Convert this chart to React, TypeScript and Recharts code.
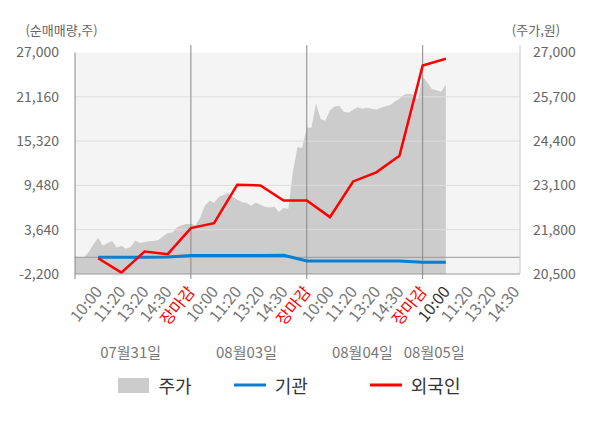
import React from "react";
import {
  ComposedChart,
  Area,
  Line,
  XAxis,
  YAxis,
  ReferenceLine,
  ReferenceArea,
  Legend,
} from "recharts";

// 일자 / 시간 라벨
const dayLabels = ["07월31일", "08월03일", "08월04일", "08월05일"];
const timeLabels = [
  "", "10:00", "11:20", "13:20", "14:30", "장마감",
  "10:00", "11:20", "13:20", "14:30", "장마감",
  "10:00", "11:20", "13:20", "14:30", "장마감",
  "10:00", "11:20", "13:20", "14:30",
];

// 주가 (원) - 일자별 장중 샘플
const priceDay1 = [
  21029, 20971, 21000, 21150, 21380, 21560, 21330, 21410, 21470, 21280, 21330, 21240, 21290,
  21480, 21410, 21440, 21460, 21470, 21500, 21610, 21700, 21720, 21870, 21930, 21970,
];
const priceDay2 = [
  21970, 21940, 22150, 22500, 22650, 22590, 22760, 22820, 22880, 22770, 22680, 22610, 22580,
  22500, 22600, 22530, 22470, 22450, 22470, 22330, 22440, 22410, 23500, 24230, 24200,
];
const priceDay3 = [
  24800, 24790, 25500, 25050, 25000, 25300, 25420, 25440, 25260, 25230, 25320, 25390, 25350,
  25380, 25350, 25330, 25380, 25420, 25460, 25560, 25640, 25760, 25790, 25760, 25620,
];
const priceDay4 = [26290, 26120, 25930, 25890, 25850, 26050];
const priceDays = [priceDay1, priceDay2, priceDay3, priceDay4];

// 순매매량 (주)
const flowSlots = [1, 2, 3, 4, 5, 6, 7, 8, 9, 10, 11, 12, 13, 14, 15, 16];
const foreignNet = [
  -120, -2020, 750, 410, 3850, 4500, 9570, 9480, 7490, 7490, 5300, 10000, 11200, 13400, 25290, 26180,
];
const institutionNet = [0, 0, 0, 50, 230, 230, 230, 230, 280, -480, -480, -480, -480, -480, -650, -650];

const leftTicks = [-2200, 3640, 9480, 15320, 21160, 27000];
const rightTicks = [20500, 21800, 23100, 24400, 25700, 27000];
const dayCloses = [5, 10, 15];

const SLOTS_PER_DAY = 5;
const SAMPLE_STEP = 0.2;

const priceData = priceDays.flatMap((vals, d) =>
  vals.map((p, k) => ({ t: d * SLOTS_PER_DAY + k * SAMPLE_STEP, price: p }))
);
const flowData = flowSlots.map((t, i) => ({
  t,
  foreign: foreignNet[i],
  inst: institutionNet[i],
}));
// 일자 라벨은 그날 데이터 구간의 가운데
const dayTicks = priceDays.map(
  (vals, d) => d * SLOTS_PER_DAY + ((vals.length - 1) * SAMPLE_STEP) / 2
);
const xTicks = [...timeLabels.map((_, i) => i), ...dayTicks];

const FONT = '"Noto Sans CJK KR", "Noto Sans", sans-serif';

const XTick = (props: any) => {
  const { x, y, payload } = props;
  const v = payload.value;
  const dayIdx = dayTicks.indexOf(v);
  if (dayIdx >= 0) {
    return (
      <text x={x} y={y + 84} textAnchor="middle" fill="#777" fontSize={15} fontFamily={FONT}>
        {dayLabels[dayIdx]}
      </text>
    );
  }
  const label = timeLabels[v] || "";
  const color = label === "장마감" ? "#ff0000" : v === 16 ? "#333" : "#777";
  return (
    <g transform={`translate(${x},${y})`}>
      {v % 5 === 0 && v <= 15 && <line x1={0} y1={0} x2={0} y2={5} stroke="#888" />}
      {label && (
        <text
          x={0}
          y={0}
          transform="translate(5,18) rotate(-51)"
          textAnchor="end"
          fill={color}
          fontSize={16}
          fontFamily={FONT}
        >
          {label}
        </text>
      )}
    </g>
  );
};

const legendItems = [
  { name: "주가", color: "#cccccc", kind: "rect" },
  { name: "기관", color: "#0a7ecf", kind: "line" },
  { name: "외국인", color: "#ff0000", kind: "line" },
];

const renderLegend = () => (
  <div
    style={{
      display: "flex",
      justifyContent: "center",
      alignItems: "center",
      fontFamily: FONT,
      fontSize: 18,
      color: "#333",
      paddingTop: 4,
      paddingRight: 22,
    }}
  >
    {legendItems.map((it, i) => (
      <div
        key={it.name}
        style={{ display: "flex", alignItems: "center", marginLeft: i === 0 ? 0 : i === 1 ? 42 : 62 }}
      >
        <svg width={32} height={16} style={{ marginRight: 9 }}>
          {it.kind === "rect" ? (
            <rect x={0} y={1} width={31} height={15} fill={it.color} />
          ) : (
            <line x1={0} y1={8} x2={32} y2={8} stroke={it.color} strokeWidth={3} />
          )}
        </svg>
        <span>{it.name}</span>
      </div>
    ))}
  </div>
);

export default function App() {
  return (
    <div style={{ position: "absolute", left: 0, top: 0, width: 600, height: 428, background: "#fff" }}>
      <ComposedChart
        width={600}
        height={428}
        margin={{ top: 45, right: 0, left: 0, bottom: 0 }}
        style={{ fontFamily: FONT }}
      >
        <XAxis
          xAxisId="time"
          dataKey="t"
          type="number"
          domain={[0, 19.2]}
          ticks={xTicks}
          interval={0}
          tick={<XTick />}
          tickLine={false}
          tickSize={0}
          tickMargin={0}
          axisLine={{ stroke: "#999" }}
          height={94}
          allowDataOverflow
        />
        <YAxis
          yAxisId="left"
          orientation="left"
          width={75}
          domain={[-2200, 27990]}
          ticks={leftTicks}
          interval={0}
          axisLine={false}
          tickLine={false}
          tickMargin={10}
          tick={{ fill: "#666", fontSize: 14, fontFamily: FONT }}
          tickFormatter={(v: number) => v.toLocaleString("en-US")}
          label={{
            value: "(순매매량,주)",
            position: "top",
            offset: 10,
            dx: 24,
            fill: "#666",
            fontSize: 13,
            fontFamily: FONT,
          }}
          allowDataOverflow
        />
        <YAxis
          yAxisId="right"
          orientation="right"
          width={80}
          domain={[20500, 27220]}
          ticks={rightTicks}
          interval={0}
          axisLine={{ stroke: "#ccc" }}
          tickLine={false}
          tickMargin={7}
          tick={{ fill: "#666", fontSize: 14, fontFamily: FONT, textAnchor: "start" }}
          tickFormatter={(v: number) => v.toLocaleString("en-US")}
          label={{
            value: "(주가,원)",
            position: "top",
            offset: 10,
            dx: -24,
            fill: "#666",
            fontSize: 13,
            fontFamily: FONT,
          }}
          allowDataOverflow
        />
        <ReferenceArea
          xAxisId="time"
          yAxisId="left"
          x1={0}
          x2={19.2}
          y1={-2200}
          y2={27000}
          fill="#f4f4f4"
          fillOpacity={1}
          stroke="none"
        />
        <Area
          xAxisId="time"
          yAxisId="right"
          data={priceData}
          dataKey="price"
          type="linear"
          stroke="none"
          fill="#cccccc"
          fillOpacity={1}
          isAnimationActive={false}
          legendType="none"
        />
        {leftTicks.slice(1, -1).map((v) => (
          <ReferenceLine key={v} xAxisId="time" yAxisId="left" y={v} stroke="#dddddd" />
        ))}
        <ReferenceLine xAxisId="time" yAxisId="left" y={0} stroke="#999" />
        <ReferenceLine
          xAxisId="time"
          yAxisId="left"
          segment={[
            { x: 0, y: -2200 },
            { x: 0, y: 27000 },
          ]}
          stroke="#888"
        />
        {dayCloses.map((v) => (
          <ReferenceLine key={v} xAxisId="time" yAxisId="left" x={v} stroke="#888" />
        ))}
        <Line
          xAxisId="time"
          yAxisId="left"
          data={flowData}
          dataKey="inst"
          type="linear"
          stroke="#0a7ecf"
          strokeWidth={3}
          dot={false}
          isAnimationActive={false}
        />
        <Line
          xAxisId="time"
          yAxisId="left"
          data={flowData}
          dataKey="foreign"
          type="linear"
          stroke="#ff0000"
          strokeWidth={2.5}
          dot={false}
          isAnimationActive={false}
        />
        <Legend verticalAlign="bottom" height={60} content={renderLegend} />
      </ComposedChart>
    </div>
  );
}
